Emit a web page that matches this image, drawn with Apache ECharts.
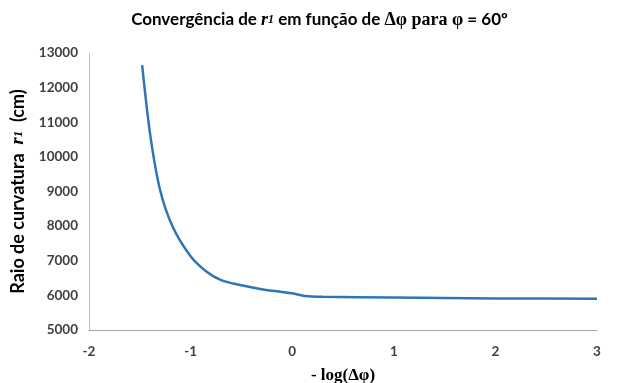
<!DOCTYPE html>
<html><head><meta charset="utf-8">
<script src="https://cdn.jsdelivr.net/npm/echarts@6/dist/echarts.min.js"></script>
<style>html,body{margin:0;padding:0;background:#fff}#c{width:639px;height:383px}</style>
</head><body><div id="c"></div>
<script>
const xValues = [-1.477, -1.398, -1.301, -1.176, -1.0, -0.845, -0.699, -0.5, -0.301, 0, 0.125, 0.301, 1, 2, 3];
const r1Values = [12650, 10650, 9050, 7980, 7130, 6690, 6440, 6290, 6180, 6060, 5985, 5960, 5940, 5912, 5905];
const xTicks = [-2, -1, 0, 1, 2, 3];
const yTicks = [5000, 6000, 7000, 8000, 9000, 10000, 11000, 12000, 13000];

const chart = echarts.init(document.getElementById('c'));
chart.setOption({
  animation: false,
  title: {
    text: '{a|Convergência de }{r|r}{s|1}{a| em função de }{t|Δφ para φ}{a| = 60º}',
    left: 'center', top: 6,
    textStyle: {
      rich: {
        a: {fontFamily: 'Lato', fontWeight: 'bold', fontSize: 17, color: '#000'},
        r: {fontFamily: 'Liberation Serif', fontStyle: 'italic', fontWeight: 'bold', fontSize: 18, color: '#000'},
        s: {fontFamily: 'Liberation Serif', fontStyle: 'italic', fontWeight: 'bold', fontSize: 12, color: '#000'},
        t: {fontFamily: 'Liberation Serif', fontWeight: 'bold', fontSize: 18, color: '#000'}
      }
    }
  },
  grid: {left: 89, right: 42, top: 53, bottom: 53, containLabel: false, outerBoundsMode: 'none'},
  xAxis: {
    type: 'value', min: -2, max: 3, interval: 1,
    name: '- log(Δφ)', nameLocation: 'middle', nameGap: 37,
    nameTextStyle: {fontFamily: 'Liberation Serif', fontWeight: 'bold', fontSize: 17, color: '#000'},
    axisLine: {lineStyle: {color: '#a6a6a6', width: 1}},
    axisTick: {show: false},
    splitLine: {show: false},
    axisLabel: {fontFamily: 'Lato', fontWeight: 'bold', fontSize: 13.5, color: '#404040', margin: 15,
      formatter: v => xTicks.includes(v) ? String(v) : ''}
  },
  yAxis: {
    type: 'value', min: 5000, max: 13000, interval: 1000,
    name: '{a|Raio de curvatura  }{r|r}{s|1}{a|  (cm)}', nameLocation: 'middle', nameGap: 60,
    nameTextStyle: {
      rich: {
        a: {fontFamily: 'Lato', fontWeight: 'bold', fontSize: 18, color: '#000'},
        r: {fontFamily: 'Liberation Serif', fontStyle: 'italic', fontWeight: 'bold', fontSize: 18.5, color: '#000'},
        s: {fontFamily: 'Liberation Serif', fontStyle: 'italic', fontWeight: 'bold', fontSize: 13, color: '#000'}
      }
    },
    axisLine: {show: true, onZero: false, lineStyle: {color: '#bfbfbf', width: 1}},
    axisTick: {show: false},
    splitLine: {show: false},
    axisLabel: {fontFamily: 'Lato', fontWeight: 'bold', fontSize: 13.5, color: '#404040', margin: 11,
      formatter: v => yTicks.includes(v) ? String(v) : ''}
  },
  series: [{
    type: 'line', smooth: 0.3, symbol: 'none',
    data: xValues.map((x, i) => [x, r1Values[i]]),
    lineStyle: {color: '#2e75b6', width: 2.5}
  }]
});
</script></body></html>
